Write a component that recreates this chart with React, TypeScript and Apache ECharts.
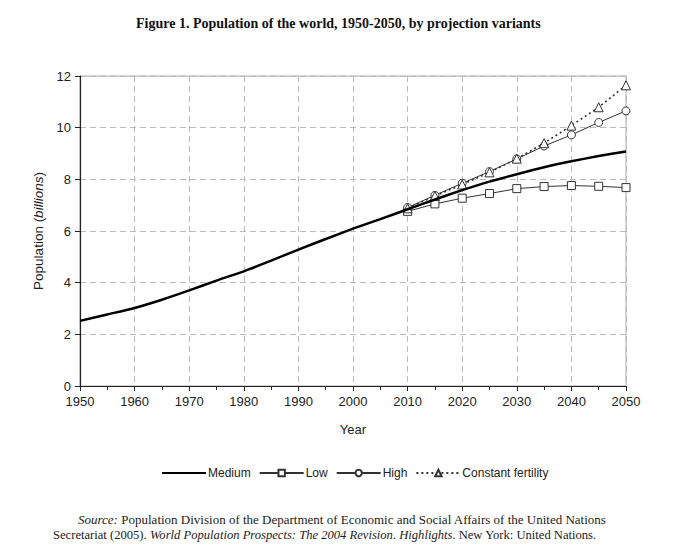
import React, { useEffect, useRef } from "react";
import * as echarts from "echarts";

const years = [1950, 1955, 1960, 1965, 1970, 1975, 1980, 1985, 1990, 1995, 2000, 2005, 2010, 2015, 2020, 2025, 2030, 2035, 2040, 2045, 2050];
const medium = [2.52, 2.77, 3.02, 3.34, 3.70, 4.08, 4.44, 4.85, 5.28, 5.69, 6.09, 6.46, 6.84, 7.22, 7.58, 7.91, 8.20, 8.47, 8.70, 8.90, 9.08];
const variantYears = [2010, 2015, 2020, 2025, 2030, 2035, 2040, 2045, 2050];
const low = [6.76, 7.05, 7.27, 7.45, 7.64, 7.72, 7.76, 7.73, 7.68];
const high = [6.91, 7.38, 7.85, 8.30, 8.79, 9.29, 9.72, 10.20, 10.65];
const constantFertility = [6.88, 7.36, 7.80, 8.27, 8.80, 9.40, 10.08, 10.79, 11.64];
const seriesNames = ["Medium", "Low", "High", "Constant fertility"];

const pair = (xs: number[], ys: number[]) => xs.map((x, i) => [x, ys[i]]);

export default function App() {
  const ref = useRef<HTMLDivElement>(null);
  useEffect(() => {
    if (!ref.current) return;
    const chart = echarts.init(ref.current, null, { renderer: "svg" });
    const axisFont = { fontFamily: "Liberation Sans, Arial, sans-serif", fontSize: 13, color: "#222" };
    const thin = { color: "#333", width: 1 };
    const mk = { color: "#fff", borderColor: "#333", borderWidth: 1 };
    const serif = "Liberation Serif, Times New Roman, serif";
    chart.setOption({
      animation: false,
      backgroundColor: "#fff",
      title: {
        text: "Figure 1. Population of the world, 1950-2050, by projection variants",
        left: 131,
        top: 11,
        textStyle: { fontFamily: serif, fontWeight: "bold", fontSize: 14, color: "#111" },
      },
      grid: { left: 80, right: 57, top: 76, bottom: 161, show: true, borderColor: "#aaa", borderWidth: 1 },
      xAxis: {
        type: "value",
        min: 1950,
        max: 2050,
        interval: 10,
        name: "Year",
        nameLocation: "middle",
        nameGap: 37,
        nameTextStyle: axisFont,
        axisLine: { lineStyle: { color: "#222", width: 1.2 } },
        axisTick: { show: true, length: 5, inside: false, lineStyle: { color: "#222" } },
        minorTick: { show: true, splitNumber: 2, length: 4, lineStyle: { color: "#222" } },
        axisLabel: { ...axisFont, margin: 9, formatter: (v: number) => String(v) },
        splitLine: { show: true, lineStyle: { color: "#bbb", type: [6, 4] } },
      },
      yAxis: {
        type: "value",
        min: 0,
        max: 12,
        interval: 2,
        name: "{n|Population (}{i|billions}{n|)}",
        nameLocation: "middle",
        nameGap: 30,
        nameRotate: 90,
        nameTextStyle: {
          rich: {
            n: { ...axisFont, fontSize: 13.5 },
            i: { ...axisFont, fontSize: 13.5, fontStyle: "italic" },
          },
        },
        axisLine: { show: true, lineStyle: { color: "#222", width: 1.2 } },
        axisTick: { show: true, length: 5, lineStyle: { color: "#222" } },
        axisLabel: { ...axisFont, margin: 9 },
        splitLine: { show: true, lineStyle: { color: "#bbb", type: [6, 4] } },
      },
      legend: {
        top: 462,
        left: 156,
        itemWidth: 44,
        itemHeight: 8,
        itemGap: 8,
        textStyle: { ...axisFont, fontSize: 12, padding: [0, 0, 0, -3] },
        data: [
          { name: seriesNames[0], itemStyle: { opacity: 0 } },
          seriesNames[1],
          seriesNames[2],
          seriesNames[3],
        ],
      },
      series: [
        {
          name: seriesNames[1], type: "line", data: pair(variantYears, low),
          symbol: "rect", symbolSize: 8, showSymbol: true,
          lineStyle: thin, itemStyle: mk, z: 3,
        },
        {
          name: seriesNames[2], type: "line", data: pair(variantYears, high),
          symbol: "circle", symbolSize: 8,
          lineStyle: thin, itemStyle: mk, z: 3,
        },
        {
          name: seriesNames[3], type: "line", data: pair(variantYears, constantFertility),
          symbol: "triangle", symbolSize: 9,
          lineStyle: { color: "#333", width: 1.6, type: [2, 3] }, itemStyle: mk, z: 3,
        },
        {
          name: seriesNames[0], type: "line", data: pair(years, medium),
          symbol: "none", smooth: 0.2,
          lineStyle: { color: "#000", width: 2.5 }, itemStyle: { color: "#000" }, z: 4,
        },
      ],
      graphic: [
        {
          type: "text",
          left: 78,
          top: 513,
          style: {
            text: "{i|Source:} {n|Population Division of the Department of Economic and Social Affairs of the United Nations}",
            rich: {
              i: { fontFamily: serif, fontSize: 13, fontStyle: "italic", fill: "#222" },
              n: { fontFamily: serif, fontSize: 13, fill: "#222" },
            },
          },
        },
        {
          type: "text",
          left: 53,
          top: 528,
          style: {
            text: "{n|Secretariat (2005).} {i|World Population Prospects: The 2004 Revision. Highlights}{n|. New York: United Nations.}",
            rich: {
              i: { fontFamily: serif, fontSize: 12.6, fontStyle: "italic", fill: "#222" },
              n: { fontFamily: serif, fontSize: 12.6, fill: "#222" },
            },
          },
        },
      ],
    });
    return () => chart.dispose();
  }, []);
  return <div ref={ref} style={{ position: "fixed", left: 0, top: 0, width: 683, height: 547 }} />;
}
